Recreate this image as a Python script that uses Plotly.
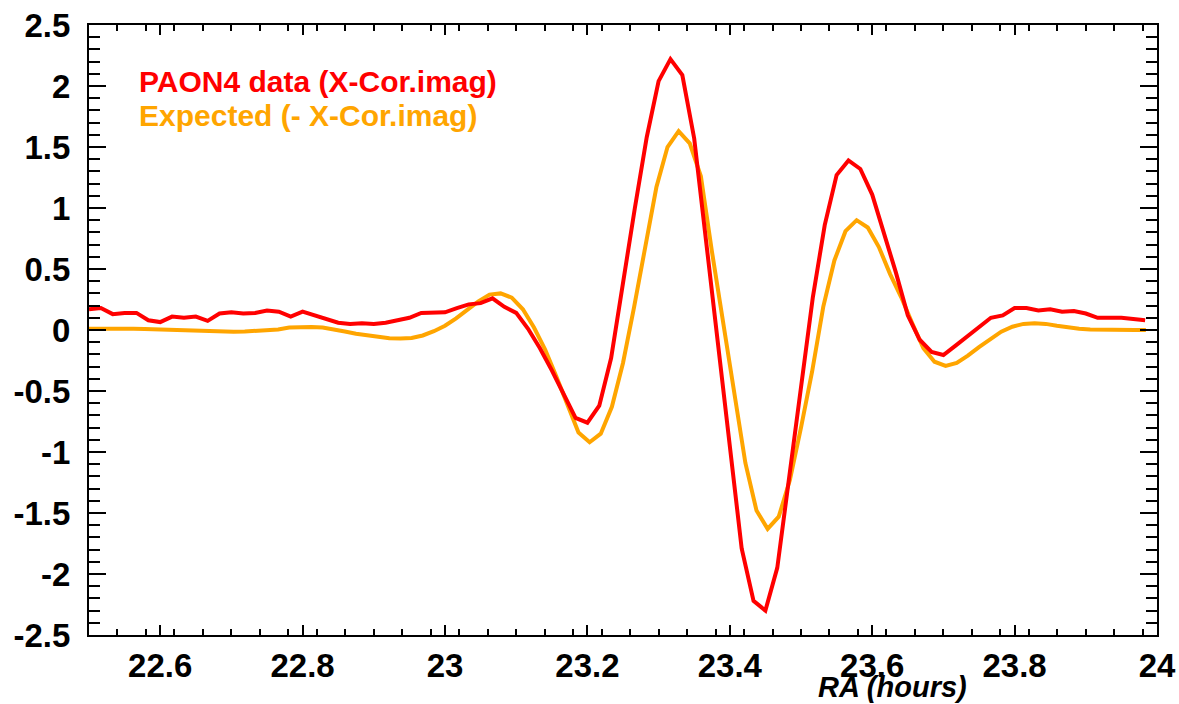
import plotly.graph_objects as go

# ---- data ----
# PAON4 data: sampled every minute from 22.5 h
ra_data_start = 22.5
ra_data_step = 1.0 / 60.0
paon4_data = [
    0.17, 0.18, 0.13, 0.14, 0.14, 0.08, 0.065, 0.11, 0.10, 0.11,
    0.075, 0.135, 0.145, 0.135, 0.14, 0.16, 0.15, 0.11, 0.15, 0.12,
    0.09, 0.06, 0.05, 0.055, 0.05, 0.06, 0.08, 0.10, 0.14, 0.145,
    0.145, 0.18, 0.21, 0.22, 0.26, 0.19, 0.14, 0.01, -0.15, -0.33,
    -0.52, -0.72, -0.76, -0.62, -0.23, 0.40, 1.00, 1.58, 2.04, 2.22,
    2.09, 1.57, 0.74, -0.08, -0.93, -1.79, -2.22, -2.30, -1.95, -1.20,
    -0.47, 0.27, 0.86, 1.27, 1.39, 1.32, 1.11, 0.80, 0.47, 0.12,
    -0.08, -0.18, -0.205, -0.13, -0.055, 0.03, 0.10, 0.12, 0.18, 0.18,
    0.16, 0.17, 0.15, 0.155, 0.135, 0.10, 0.10, 0.10, 0.09, 0.08,
]
# Expected curve: 96 samples over the 1.5 h span
ra_model_start = 22.5
ra_model_step = 1.5 / 96.0
expected = [
    0.01, 0.012, 0.013, 0.012, 0.01, 0.008, 0.005, 0.002, -0.002, -0.006,
    -0.009, -0.012, -0.014, -0.014, -0.012, -0.008, -0.002, 0.005, 0.02, 0.026,
    0.025, 0.02, 0.008, -0.012, -0.03, -0.045, -0.058, -0.067, -0.07, -0.066,
    -0.045, -0.01, 0.035, 0.095, 0.165, 0.235, 0.29, 0.30, 0.265, 0.17,
    0.02, -0.16, -0.38, -0.61, -0.84, -0.92, -0.85, -0.63, -0.27, 0.19,
    0.68, 1.17, 1.50, 1.63, 1.53, 1.26, 0.64, 0.06, -0.52, -1.09,
    -1.48, -1.63, -1.53, -1.23, -0.80, -0.34, 0.19, 0.57, 0.81, 0.90,
    0.84, 0.68, 0.46, 0.27, 0.055, -0.15, -0.26, -0.295, -0.27, -0.21,
    -0.14, -0.08, -0.014, 0.027, 0.05, 0.055, 0.05, 0.035, 0.02, 0.01,
    0.005, 0.002, 0.0, 0.0, 0.0, 0.0,
]
y_tick_vals = [2.5, 2, 1.5, 1, 0.5, 0, -0.5, -1, -1.5, -2, -2.5]
y_tick_text = ["2.5", "2", "1.5", "1", "0.5", "0", "-0.5", "-1", "-1.5", "-2", "-2.5"]
x_tick_vals = [22.6, 22.8, 23.0, 23.2, 23.4, 23.6, 23.8, 24.0]
x_tick_text = ["22.6", "22.8", "23", "23.2", "23.4", "23.6", "23.8", "24"]
label_data = "PAON4 data (X-Cor.imag)"
label_expected = "Expected (- X-Cor.imag)"
x_title = "RA (hours)"

ra_data = [ra_data_start + i * ra_data_step for i in range(len(paon4_data))]
ra_model = [ra_model_start + k * ra_model_step for k in range(len(expected))]

RED = "#FF0000"
ORANGE = "#FFA500"
FONT = "Liberation Sans, Arial, Helvetica, sans-serif"

fig = go.Figure()
fig.add_trace(go.Scatter(x=ra_model, y=expected, mode="lines",
                         line=dict(color=ORANGE, width=4), name=label_expected))
fig.add_trace(go.Scatter(x=ra_data, y=paon4_data, mode="lines",
                         line=dict(color=RED, width=4), name=label_data))

axis_common = dict(
    showline=True, linecolor="black", linewidth=2, mirror="allticks",
    ticks="inside", tickcolor="black", tickwidth=2, automargin=False,
    showgrid=False, zeroline=False, ticklabeloverflow="allow",
    tickfont=dict(family=FONT, size=33, color="black", weight="bold"),
)

fig.update_xaxes(
    range=[22.5, 24.0], tickvals=x_tick_vals, ticktext=x_tick_text,
    ticklen=10, ticklabelstandoff=0,
    minor=dict(dtick=0.04, tick0=22.5, ticks="inside", ticklen=6,
               tickcolor="black", tickwidth=2),
    **axis_common,
)
fig.update_yaxes(
    range=[-2.5, 2.5], tickvals=y_tick_vals, ticktext=y_tick_text,
    ticklen=17, ticklabelstandoff=10,
    minor=dict(dtick=0.1, tick0=0, ticks="inside", ticklen=11,
               tickcolor="black", tickwidth=2),
    **axis_common,
)

fig.update_layout(
    width=1179, height=704,
    margin=dict(l=89, r=22, t=25, b=69),
    paper_bgcolor="white", plot_bgcolor="white",
    showlegend=False,
    annotations=[
        dict(text=label_data, xref="paper", yref="paper", x=0.045, y=0.907,
             xanchor="left", yanchor="middle", showarrow=False,
             font=dict(family=FONT, size=30, color=RED, weight="bold")),
        dict(text=label_expected, xref="paper", yref="paper", x=0.045, y=0.851,
             xanchor="left", yanchor="middle", showarrow=False,
             font=dict(family=FONT, size=30, color=ORANGE, weight="bold")),
        dict(text="<i>" + x_title + "</i>", xref="paper", yref="paper", x=0.752, y=-0.086,
             xanchor="center", yanchor="middle", showarrow=False,
             font=dict(family=FONT, size=29, color="black", weight="bold")),
    ],
)

# remove the default page margin so the figure fills the window exactly
fig.write_html("out.html",
               config={"displayModeBar": False},
               post_script="document.body.style.margin='0';"
                           "document.body.style.overflow='hidden';")
